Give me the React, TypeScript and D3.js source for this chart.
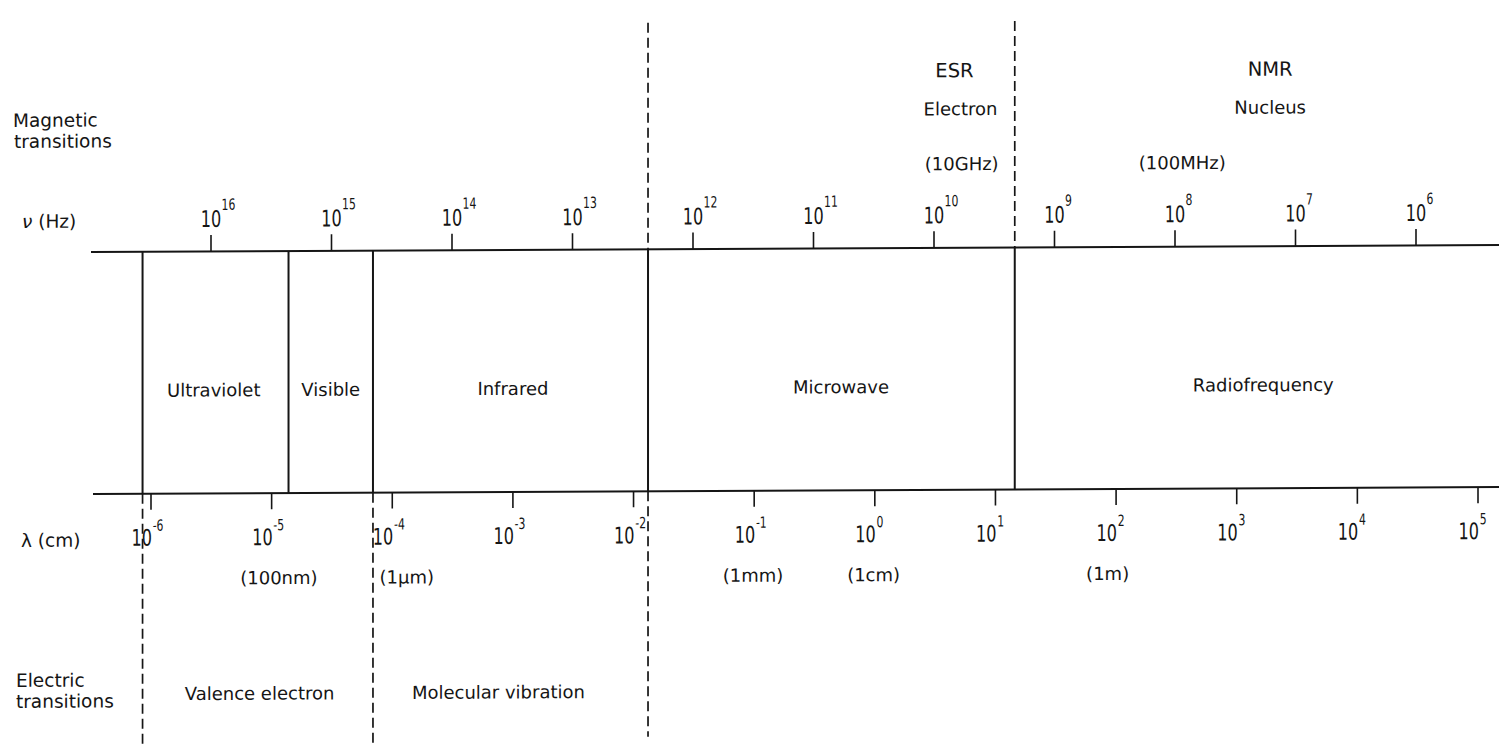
import React from "react";
import * as d3 from "d3";

// wavelength ticks (powers of ten, cm) along the lower line
const lambdaExps = [-6, -5, -4, -3, -2, -1, 0, 1, 2, 3, 4, 5];
// frequency ticks (powers of ten, Hz) along the upper line
const nuExps = [16, 15, 14, 13, 12, 11, 10, 9, 8, 7, 6];

// spectral regions: boundaries and label centres as log10(lambda / cm)
const regionBounds = [-6.07, -4.86, -4.16, -1.88, 1.16];
const regionNames = ["Ultraviolet", "Visible", "Infrared", "Microwave", "Radiofrequency"];
const regionLabelAt = [-5.48, -4.51, -3.0, -0.28, 3.22];

// which boundaries are carried on as dashed lines above / below
const dashedAbove = [3, 4];
const dashedBelow = [0, 2, 3];
const dashedBelowEnd = [770, 770, 740];

// wavelength unit notes, centred at log10(lambda)
const unitNotes = ["(100nm)", "(1\u03bcm)", "(1mm)", "(1cm)", "(1m)"];
const unitNoteAt = [-4.94, -3.88, -1.01, -0.01, 1.93];

// magnetic transitions, centred at log10(nu), row 0..2
const magText = ["ESR", "Electron", "(10GHz)", "NMR", "Nucleus", "(100MHz)"];
const magAt = [9.83, 9.78, 9.77, 7.21, 7.21, 7.94];
const magRow = [0, 1, 2, 0, 1, 2];

// electric transitions, centred at log10(lambda)
const elecText = ["Valence electron", "Molecular vibration"];
const elecAt = [-5.1, -3.12];

const FONT = "'DejaVu Sans', sans-serif";
const INK = "#151515";

export default function App() {
  const width = 1499,
    height = 744;
  const topY = 252.5,
    botY = 494.5;
  const rowY = [82, 120, 175];
  const rowSize = [19.5, 18, 18];

  const xL = d3.scaleLog().domain([1e-6, 1e5]).range([151, 1478]);
  const xN = d3.scaleLog().domain([1e16, 1e6]).range([211, 1416]);
  const lx = (e: number) => xL(Math.pow(10, e));
  const nx = (e: number) => xN(Math.pow(10, e));

  return (
    <svg
      width={width}
      height={height}
      style={{ position: "absolute", left: 0, top: 0, background: "#fff" }}
      fontFamily={FONT}
      fill={INK}
    >
      <g transform="skewY(-0.285)">
        {/* left labels */}
        <text x={13} y={127} fontSize={18.5}>Magnetic</text>
        <text x={14} y={148} fontSize={18.5}>transitions</text>
        <text x={22} y={228} fontSize={18.5}>
          <tspan fontStyle="italic">{"\u03bd"}</tspan>{" (Hz)"}
        </text>
        <text x={21} y={547} fontSize={18.5}>{"\u03bb (cm)"}</text>
        <text x={16} y={687} fontSize={18.5}>Electric</text>
        <text x={16} y={708} fontSize={18.5}>transitions</text>

        {/* main lines */}
        <line x1={91} x2={1500} y1={topY} y2={topY} stroke={INK} strokeWidth={2} />
        <line x1={93} x2={1500} y1={botY} y2={botY} stroke={INK} strokeWidth={2} />

        {/* region boundaries */}
        {regionBounds.map((b, i) => (
          <line key={"b" + i} x1={lx(b)} x2={lx(b)} y1={topY} y2={botY} stroke={INK} strokeWidth={2} />
        ))}
        {dashedAbove.map((i) => (
          <line key={"da" + i} x1={lx(regionBounds[i])} x2={lx(regionBounds[i])} y1={26} y2={topY}
            stroke={INK} strokeWidth={1.7} strokeDasharray="10 5" />
        ))}
        {dashedBelow.map((i, k) => (
          <line key={"db" + i} x1={lx(regionBounds[i])} x2={lx(regionBounds[i])} y1={botY} y2={dashedBelowEnd[k]}
            stroke={INK} strokeWidth={1.7} strokeDasharray="10 5" />
        ))}

        {/* region names */}
        {regionNames.map((n, i) => (
          <text key={n} x={lx(regionLabelAt[i])} y={397.5} fontSize={18} textAnchor="middle">{n}</text>
        ))}

        {/* frequency ticks */}
        {nuExps.map((e) => (
          <g key={"n" + e}>
            <line x1={nx(e)} x2={nx(e)} y1={topY} y2={topY - 16.5} stroke={INK} strokeWidth={1.6} />
            <g transform={`translate(${nx(e)},228) scale(0.7,1)`}>
              <text textAnchor="middle" fontSize={23}>10</text>
              <text x={15} y={-17} fontSize={15.5}>{e}</text>
            </g>
          </g>
        ))}

        {/* wavelength ticks */}
        {lambdaExps.map((e) => (
          <g key={"l" + e}>
            <line x1={lx(e)} x2={lx(e)} y1={botY} y2={botY + 16} stroke={INK} strokeWidth={1.6} />
            <g transform={`translate(${lx(e) + 1},546.5) scale(0.7,1)`}>
              <text textAnchor="end" fontSize={23}>10</text>
              <text x={1} y={-15} fontSize={15.5}>{e < 0 ? "-" + -e : e}</text>
            </g>
          </g>
        ))}

        {/* unit notes under wavelength axis */}
        {unitNotes.map((t, i) => (
          <text key={t} x={lx(unitNoteAt[i])} y={585.5} fontSize={18} textAnchor="middle">{t}</text>
        ))}

        {/* magnetic transitions */}
        {magText.map((t, i) => (
          <text key={t} x={nx(magAt[i])} y={rowY[magRow[i]]} fontSize={rowSize[magRow[i]]} textAnchor="middle">{t}</text>
        ))}

        {/* electric transitions */}
        {elecText.map((t, i) => (
          <text key={t} x={lx(elecAt[i])} y={701} fontSize={18} textAnchor="middle">{t}</text>
        ))}
      </g>
    </svg>
  );
}
